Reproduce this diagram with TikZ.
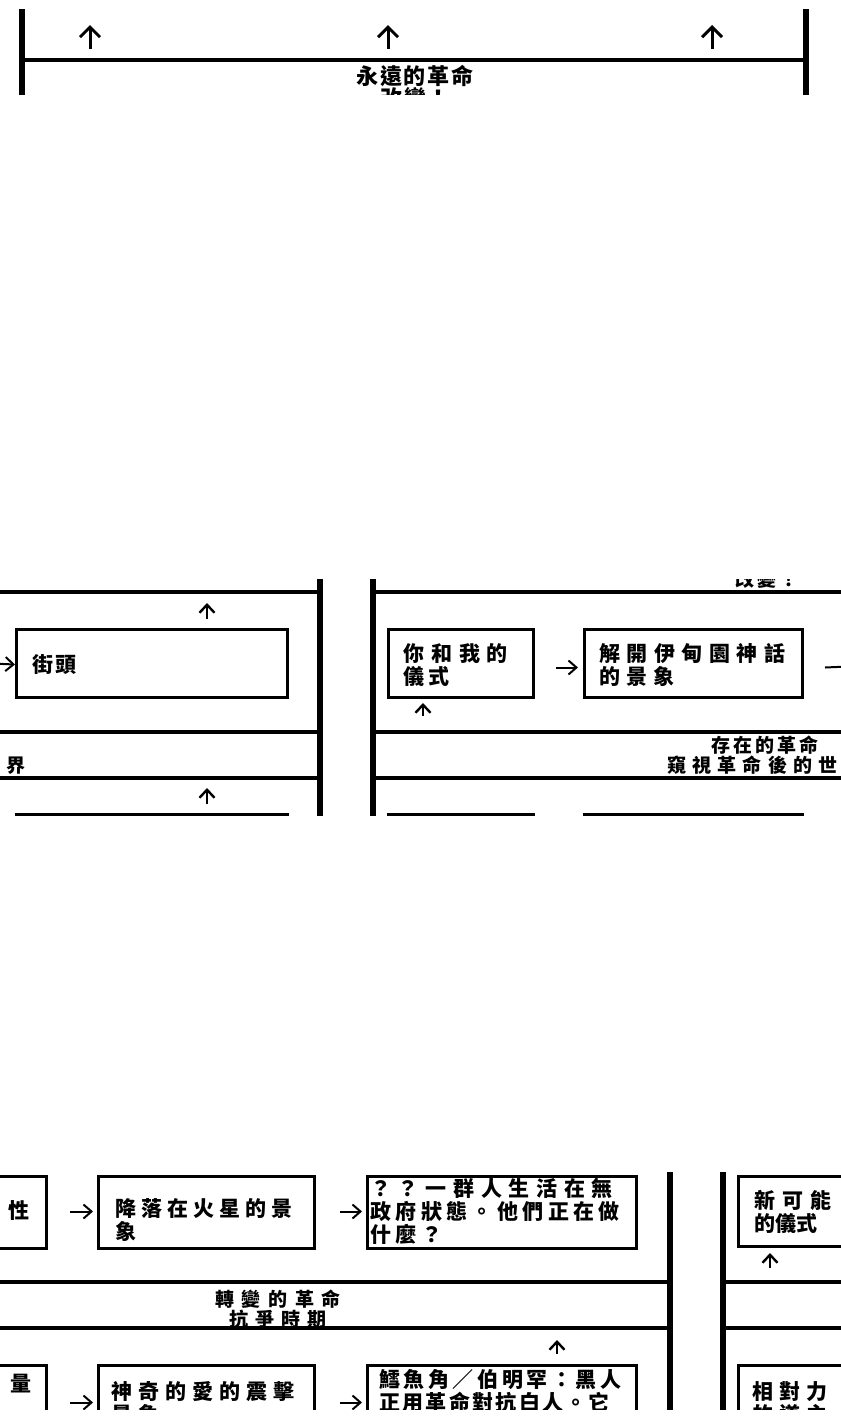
\documentclass[tikz,border=0pt]{standalone}
\usepackage{fontspec}
\newfontfamily\cjk{Noto Sans CJK TC}
\usetikzlibrary{arrows.meta}
\newcommand\LS[1]{\addfontfeatures{LetterSpace=#1}}
\begin{document}
\begin{tikzpicture}[x=1pt,y=-1pt,
  panel/.style={line width=5.5pt},
  rowline/.style={line width=4pt},
  box/.style={draw, line width=3pt, rectangle, inner sep=0pt, anchor=north west},
  btxt/.style={inner sep=0pt, anchor=north west, align=left, font=\cjk\bfseries\fontsize{21}{23}\selectfont},
  lbl/.style={inner sep=0pt, anchor=north, align=center, font=\cjk\bfseries\fontsize{19}{20}\selectfont},
  arr/.style={line width=2pt, -{Straight Barb[length=8pt,width=14pt]}},
  uparr/.style={line width=2.4pt, -{Straight Barb[length=8pt,width=15pt]}},
  bigup/.style={line width=3pt, -{Straight Barb[length=10pt,width=20pt]}}
]
\fill[white] (0,0) rectangle (841,1417);
\useasboundingbox (0,0) rectangle (841,1417);

% ---------- top fragment ----------
\begin{scope}
\clip (0,0) rectangle (841,94);
\draw[panel] (22,9) -- (22,100);
\draw[panel] (806,9) -- (806,100);
\draw[rowline] (22,60) -- (806,60);
\coordinate (t1a) at (90,49);  \coordinate (t1b) at (90,25);
\coordinate (t2a) at (388,49); \coordinate (t2b) at (388,25);
\coordinate (t3a) at (712,49); \coordinate (t3b) at (712,25);
\draw[bigup] (t1a) -- (t1b);
\draw[bigup] (t2a) -- (t2b);
\draw[bigup] (t3a) -- (t3b);
\node[lbl, font=\cjk\bfseries\fontsize{22}{22}\selectfont] (eternal) at (415,65) {{\LS{9}永遠的革命}\\{\LS{9}改變！}};
\end{scope}

% ---------- middle fragment ----------
\begin{scope}
\clip (0,579) rectangle (841,815.5);
% left panel
\draw[panel] (320,570) -- (320,825);
\draw[rowline] (-5,592) -- (320,592);
\draw[rowline] (-5,732) -- (320,732);
\draw[rowline] (-5,778) -- (320,778);
\node[box, minimum width=271pt, minimum height=68pt] (street) at (15,628) {};
\node[btxt] (streett) at (32,654) {{\LS{10}街頭}};
\coordinate (streetin) at (-20,663);
\draw[arr] (streetin) -- ([yshift=-1pt]street.west);
\coordinate (m1a) at (207,619); \coordinate (m1b) at (207,603);
\draw[uparr] (m1a) -- (m1b);
\node[lbl] (peekL) at (-72,756) {{\LS{32}窺視革命後的世界}};
\coordinate (m2a) at (207,804); \coordinate (m2b) at (207,788);
\draw[uparr] (m2a) -- (m2b);
\node[box, minimum width=271pt, minimum height=60pt] (nextL) at (15,813) {};
% right panel
\draw[panel] (373,570) -- (373,825);
\draw[rowline] (373,592) -- (846,592);
\draw[rowline] (373,732) -- (846,732);
\draw[rowline] (373,778) -- (846,778);
\node[lbl] (changeM) at (767,570) {{\LS{16}改變！}};
\node[box, minimum width=145pt, minimum height=68pt] (you) at (387,628) {};
\node[btxt] (yout) at (403,643) {{\LS{33}你和我的}\\{\LS{19}儀式}};
\node[box, minimum width=218pt, minimum height=68pt] (eden) at (583,628) {};
\node[btxt] (edent) at (599,643) {{\LS{31}解開伊甸園神話}\\{\LS{29}的景象}};
\draw[arr] ([shift={(21,4)}]you.east) -- ([shift={(-5,4)}]eden.west);
\coordinate (edenout) at (860,666);
\draw[arr] ([shift={(21,4)}]eden.east) -- (edenout);
\coordinate (m3a) at (423,716); \coordinate (m3b) at (423,703);
\draw[uparr] (m3a) -- (m3b);
\node[lbl] (exist) at (765,736) {{\LS{16}存在的革命}\\{\LS{32}窺視革命後的世界}};
\node[box, minimum width=145pt, minimum height=60pt] (nextR1) at (387,813) {};
\node[box, minimum width=218pt, minimum height=60pt] (nextR2) at (583,813) {};
\end{scope}

% ---------- bottom fragment ----------
\begin{scope}
\clip (0,1172.5) rectangle (841,1409);
% left panel
\draw[panel] (670,1165) -- (670,1420);
\draw[rowline] (-5,1282) -- (670,1282);
\draw[rowline] (-5,1328) -- (670,1328);
\node[box, minimum width=145pt, minimum height=72pt] (sex) at (-100,1175) {};
\node[btxt] (sext) at (8,1200) {性};
\node[box, minimum width=216pt, minimum height=72pt] (mars) at (97,1175) {};
\node[btxt] (marst) at (115,1198) {{\LS{24}降落在火星的景}\\象};
\node[box, minimum width=269pt, minimum height=72pt] (anarchy) at (366,1175) {};
\node[btxt] (anarchyt) at (370,1178) {{\LS{32}？？一群人生活在無}\\{\LS{21}政府狀態。他們正在做}\\{\LS{21}什麼？}};
\draw[arr] ([shift={(22,-1)}]sex.east) -- ([shift={(-4,-1)}]mars.west);
\draw[arr] ([shift={(24,-1)}]mars.east) -- ([shift={(-4,-1)}]anarchy.west);
\node[lbl] (turn) at (278,1290) {{\LS{40}轉變的革命}\\{\LS{37}抗爭時期}};
\coordinate (b1a) at (557,1354); \coordinate (b1b) at (557,1340);
\draw[uparr] (b1a) -- (b1b);
\node[box, minimum width=145pt, minimum height=80pt] (liang) at (-100,1364) {};
\node[btxt] (liangt) at (10,1374) {量};
\node[box, minimum width=216pt, minimum height=80pt] (love) at (97,1364) {};
\node[btxt] (lovet) at (111,1381) {{\LS{29}神奇的愛的震擊}\\{\LS{29}景象}};
\node[box, minimum width=269pt, minimum height=80pt] (cod) at (366,1364) {};
\node[btxt] (codt) at (379,1369) {{\LS{17}鱈魚角／伯明罕：黑人}\\{\LS{11}正用革命對抗白人。它}};
\draw[arr] ([shift={(22,-3)}]liang.east) -- ([shift={(-4,-3)}]love.west);
\draw[arr] ([shift={(24,-3)}]love.east) -- ([shift={(-4,-3)}]cod.west);
% right panel
\draw[panel] (723,1165) -- (723,1420);
\draw[rowline] (723,1282) -- (846,1282);
\draw[rowline] (723,1328) -- (846,1328);
\node[box, minimum width=200pt, minimum height=70pt] (ritual) at (737,1175) {};
\node[btxt] (ritualt) at (754,1190) {{\LS{33}新可能}\\的儀式};
\coordinate (b2a) at (770,1268); \coordinate (b2b) at (770,1253);
\draw[uparr] (b2a) -- (b2b);
\node[box, minimum width=200pt, minimum height=80pt] (rel) at (737,1364) {};
\node[btxt] (relt) at (752,1381) {{\LS{29}相對力}\\{\LS{29}的道主}};
\end{scope}
\end{tikzpicture}
\end{document}
